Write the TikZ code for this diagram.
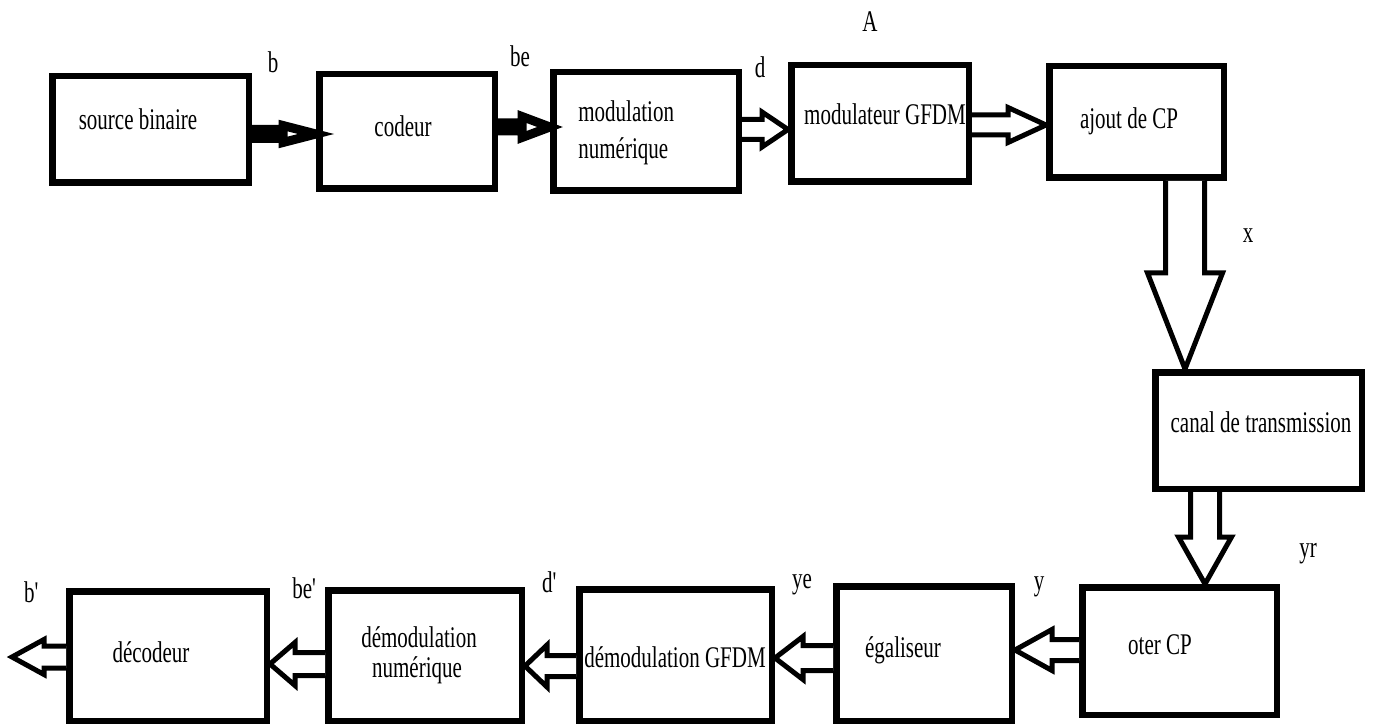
\documentclass[tikz,border=0pt]{standalone}
\usepackage{fontspec}
\setmainfont{Liberation Serif}[FakeStretch=0.7]
\usetikzlibrary{calc}
\tikzset{
  box/.style={draw, line width=3.25pt, inner sep=0pt},
  lbl/.style={anchor=base, inner sep=0pt, font=\fontsize{15}{18.5}\selectfont},
  barrow/.style={draw, fill=white, line width=2.5pt, line join=miter},
  solidarrow/.style={line width=4.5pt},
}
% #1 extra style, #2 tail point, #3 tip point, #4 shaft half width, #5 head half width, #6 head length
\newcommand\blockarrow[6][]{%
  \path #2 coordinate (T0) #3 coordinate (T1);
  \path ($(T1)!#6!(T0)$) coordinate (TB);
  \draw[barrow,#1] ($(T0)!#4!90:(T1)$) -- ($(TB)!#4!90:(T1)$) -- ($(TB)!#5!90:(T1)$)
     -- (T1) -- ($(TB)!#5!-90:(T1)$) -- ($(TB)!#4!-90:(T1)$) -- ($(T0)!#4!-90:(T1)$);
}
\begin{document}
\begin{tikzpicture}[x=0.5pt,y=-0.5pt]
\useasboundingbox[fill=white] (0,0) rectangle (1376,727);

% boxes
\node[box, minimum width=98.25pt, minimum height=53.25pt] (src) at (150.5,129.5) {};
\node[box, minimum width=87.75pt, minimum height=57.25pt] (cod) at (407,131.5) {};
\node[box, minimum width=92.75pt, minimum height=59.25pt] (mod) at (646,131.5) {};
\node[box, minimum width=88.75pt, minimum height=58.25pt] (gfdm) at (880,123.5) {};
\node[box, minimum width=87.25pt, minimum height=55.75pt] (cp) at (1136.5,122) {};
\node[box, minimum width=103.25pt,minimum height=58.25pt] (canal) at (1258.5,430.5) {};
\node[box, minimum width=97.25pt, minimum height=63.75pt] (oter) at (1179.5,651) {};
\node[box, minimum width=87.75pt, minimum height=67.25pt] (egal) at (924,653.5) {};
\node[box, minimum width=96.25pt, minimum height=65.75pt] (dgfdm) at (675.5,655) {};
\node[box, minimum width=96.75pt, minimum height=65.25pt] (dnum) at (425,655.5) {};
\node[box, minimum width=98.75pt, minimum height=64.75pt] (dec) at (168,656) {};

% box texts
\node[lbl] (tsrc) at (138,130) {source binaire};
\node[lbl] (tcod) at (403,137) {codeur};
\node[lbl, anchor=base west] (tmod1) at (578,122) {modulation};
\node[lbl, anchor=base west] (tmod2) at (578,159) {numérique};
\node[lbl] (tgfdm) at (885,125) {modulateur GFDM};
\node[lbl] (tcp) at (1129,129) {ajout de CP};
\node[lbl] (tcanal) at (1261,432) {canal de transmission};
\node[lbl] (toter) at (1160,654) {oter CP};
\node[lbl] (tegal) at (903,657) {égaliseur};
\node[lbl] (tdgfdm) at (675,667) {démodulation GFDM};
\node[lbl] (tdnum1) at (419,647) {démodulation};
\node[lbl] (tdnum2) at (417,677) {numérique};
\node[lbl] (tdec) at (151,662) {décodeur};

% signal labels
\node[lbl] (lb) at (273,73) {b};
\node[lbl] (lbe) at (520,67) {be};
\node[lbl] (ld) at (760,78) {d};
\node[lbl] (lA) at (870,32) {A};
\node[lbl] (lx) at (1248,243) {x};
\node[lbl] (lyr) at (1308,557) {yr};
\node[lbl] (ly) at (1039,590) {y};
\node[lbl] (lye) at (802,588) {ye};
\node[lbl] (ldp) at (550,592) {d\textquotesingle};
\node[lbl] (lbep) at (305,598) {be\textquotesingle};
\node[lbl] (lbp) at (32,602) {b\textquotesingle};

% arrows
\blockarrow[solidarrow]{(src.east |- 0,134)}{(cod.west |- 0,134)}{2.25pt}{4.25pt}{16.5pt}
\blockarrow[solidarrow]{(cod.east |- 0,127)}{(mod.west |- 0,127)}{2pt}{5.25pt}{14pt}
\blockarrow{(mod.east |- 0,129.5)}{(gfdm.west |- 0,129.5)}{5pt}{8.75pt}{13pt}
\blockarrow{(gfdm.east |- 0,125)}{(cp.west |- 0,125)}{5pt}{8.75pt}{19pt}
\blockarrow{(cp.south -| 1185,0)}{(canal.north -| 1185,0)}{9.75pt}{18.75pt}{48pt}
\blockarrow{(canal.south -| 1205,0)}{(oter.north -| 1205,0)}{7.25pt}{13.25pt}{23.5pt}
\blockarrow{(oter.west |- 0,650)}{(egal.east |- 0,650)}{5.25pt}{10.25pt}{18.5pt}
\blockarrow{(egal.west |- 0,658)}{(dgfdm.east |- 0,658)}{6.25pt}{10.75pt}{14pt}
\blockarrow{(dgfdm.west |- 0,666)}{(dnum.east |- 0,666)}{5.25pt}{10.5pt}{11pt}
\blockarrow{(dnum.west |- 0,664)}{(dec.east |- 0,664)}{5.75pt}{10.75pt}{12.5pt}
\coordinate (out) at (12,657);
\blockarrow{(dec.west |- 0,657)}{(out)}{5.5pt}{8.75pt}{16pt}
\end{tikzpicture}
\end{document}
